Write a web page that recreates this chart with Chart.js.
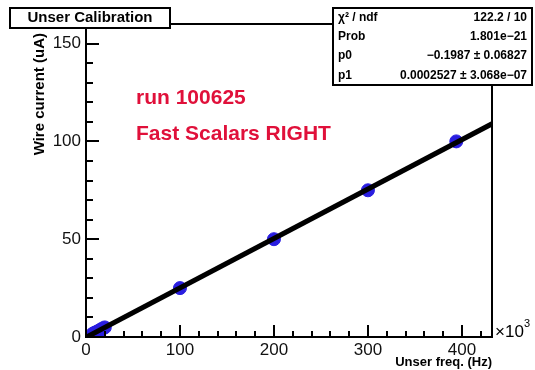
<!DOCTYPE html>
<html>
<head>
<meta charset="utf-8">
<script src="https://cdn.jsdelivr.net/npm/chart.js@4"></script>
<style>
  html, body { margin: 0; padding: 0; background: #fff; }
  canvas { display: block; }
</style>
</head>
<body>
<canvas id="calib" width="535" height="370"></canvas>
<script>
// measured points: Unser frequency (Hz) vs wire current (uA)
const unserHz = [7000, 9000, 10000, 12000, 14000, 16000, 18000, 20000, 100000, 200000, 300000, 394000];
const wireUA = [1.6, 2.1, 2.3, 2.8, 3.3, 3.9, 4.4, 4.9, 25, 50, 75, 100];

// axis labels (x in units of 10^3 Hz)
const xTickValues = [0, 100000, 200000, 300000, 400000];
const xTickLabels = ['0', '100', '200', '300', '400'];

// linear fit result
const p0 = -0.1987;
const p1 = 0.0002527;

// stats box rows
const statNames = ['\u03c7\u00b2 / ndf', 'Prob', 'p0', 'p1'];
const statValues = ['122.2 / 10', '1.801e\u221221', '\u22120.1987 \u00b1 0.06827', '0.0002527 \u00b1 3.068e\u221207'];

const xMax = 432000;
const yMax = 160;
const FONT = '"Liberation Sans", Arial, Helvetica, sans-serif';

// frame, inward ticks, titles and boxes in ROOT style
const rootFrame = {
    id: 'rootFrame',
    afterDraw(chart) {
        const { ctx, chartArea: a, scales: { x, y } } = chart;
        ctx.save();
        ctx.strokeStyle = '#000';
        ctx.lineWidth = 2;
        ctx.strokeRect(a.left, a.top, a.right - a.left, a.bottom - a.top);

        ctx.beginPath();
        for (let v = 0; v <= yMax; v += 10) {
            const py = Math.round(y.getPixelForValue(v));
            const len = v % 50 === 0 ? 13 : 7;
            ctx.moveTo(a.left, py); ctx.lineTo(a.left + len, py);
        }
        for (let v = 0; v <= xMax; v += 20000) {
            const px = Math.round(x.getPixelForValue(v));
            const len = v % 100000 === 0 ? 12 : 6;
            ctx.moveTo(px, a.bottom); ctx.lineTo(px, a.bottom - len);
        }
        ctx.stroke();

        // x tick labels
        ctx.fillStyle = '#111';
        ctx.font = '17px ' + FONT;
        ctx.textAlign = 'center';
        ctx.textBaseline = 'middle';
        xTickValues.forEach((v, i) => {
            ctx.fillText(xTickLabels[i], x.getPixelForValue(v), a.bottom + 13);
        });

        // axis titles
        ctx.fillStyle = '#000';
        ctx.font = 'bold 13px ' + FONT;
        ctx.textAlign = 'right';
        ctx.fillText('Unser freq. (Hz)', a.right, 362);
        ctx.save();
        ctx.translate(40, 33);
        ctx.rotate(-Math.PI / 2);
        ctx.font = 'bold 15px ' + FONT;
        ctx.textAlign = 'right';
        ctx.fillText('Wire current (uA)', 0, 0);
        ctx.restore();

        // exponent label
        ctx.font = '17px ' + FONT;
        ctx.textAlign = 'left';
        ctx.fillText('\u00d710', 495, 332);
        ctx.font = '11px ' + FONT;
        ctx.fillText('3', 524, 324);

        // run labels
        ctx.fillStyle = '#e0103a';
        ctx.font = 'bold 21px ' + FONT;
        ctx.fillText('run 100625', 136, 98);
        ctx.fillText('Fast Scalars RIGHT', 136, 134);

        // title box
        ctx.fillStyle = '#fff';
        ctx.fillRect(10, 8, 160, 20);
        ctx.strokeRect(10, 8, 160, 20);
        ctx.fillStyle = '#000';
        ctx.font = 'bold 15px ' + FONT;
        ctx.textAlign = 'center';
        ctx.fillText('Unser Calibration', 90, 18);

        // stats box
        ctx.fillStyle = '#fff';
        ctx.fillRect(333, 8, 199, 77);
        ctx.strokeRect(333, 8, 199, 77);
        ctx.fillStyle = '#000';
        ctx.font = 'bold 12px ' + FONT;
        statNames.forEach((name, i) => {
            const ty = 8 + 77 / 4 * (i + 0.5);
            ctx.textAlign = 'left';
            ctx.fillText(name, 338, ty);
            ctx.textAlign = 'right';
            ctx.fillText(statValues[i], 527, ty);
        });
        ctx.restore();
    }
};

new Chart(document.getElementById('calib'), {
    type: 'scatter',
    data: {
        datasets: [
            {
                label: 'data',
                data: unserHz.map((f, i) => ({ x: f, y: wireUA[i] })),
                backgroundColor: '#2a1ee0',
                borderColor: '#2a1ee0',
                pointRadius: 6.5,
                order: 1
            },
            {
                label: 'fit',
                type: 'line',
                data: [{ x: 0, y: p0 }, { x: xMax, y: p0 + p1 * xMax }],
                borderColor: '#000',
                borderWidth: 5,
                pointRadius: 0,
                fill: false,
                order: 0
            }
        ]
    },
    options: {
        responsive: false,
        animation: false,
        devicePixelRatio: 1,
        layout: { padding: { left: 0, top: 24, right: 43, bottom: 0 } },
        plugins: { legend: { display: false }, tooltip: { enabled: false } },
        scales: {
            x: {
                type: 'linear', min: 0, max: xMax,
                grid: { display: false, drawTicks: false },
                border: { display: false },
                ticks: { display: false },
                afterFit: s => { s.height = 33; }
            },
            y: {
                type: 'linear', min: 0, max: yMax,
                grid: { display: false, drawTicks: false },
                border: { display: false },
                ticks: {
                    stepSize: 50, autoSkip: false, padding: 5,
                    color: '#111', font: { family: FONT, size: 17 },
                    callback: v => v % 50 === 0 ? String(v) : ''
                },
                afterFit: s => { s.width = 86; }
            }
        }
    },
    plugins: [rootFrame]
});
</script>
</body>
</html>
